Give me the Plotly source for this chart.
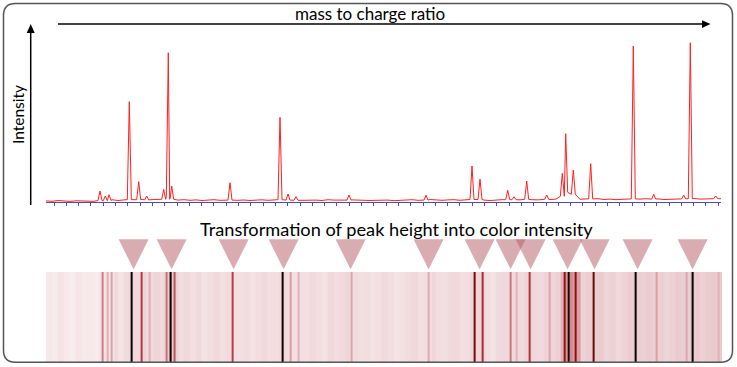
import plotly.graph_objects as go

W, H = 737, 367

# ---------------- data (m/z offset units, intensity units) ----------------
baseline_mz = list(range(0, 673, 6)) + [675]
baseline_int = [
    1.4, 1.0, 1.8, 1.2, 0.9, 1.5, 1.1, 1.3, 1.0,
    2.2, 2.0, 2.6, 1.8, 2.4,
    2.0, 2.6, 3.0, 2.2, 2.8, 2.4, 3.2,
    2.8, 2.2, 2.6, 2.0, 2.4, 1.8, 2.2, 2.6, 2.0, 2.4,
    2.6, 2.0, 2.3, 1.8, 2.2, 2.5, 2.0, 2.2, 2.8, 2.4,
    2.0, 1.6, 2.0, 2.4, 2.2, 1.8, 2.6, 2.2, 2.4, 2.8,
    2.4, 2.0, 2.2, 1.8, 2.0, 2.4, 2.2, 1.6, 2.0, 2.3,
    2.6, 2.0, 2.4, 2.8, 2.2, 2.0, 2.4, 2.6, 2.0, 2.2,
    2.8, 3.0, 2.2, 1.8, 2.4, 2.6, 2.2, 2.8, 2.4, 3.0,
    2.6, 2.4, 3.0, 2.8, 3.2, 2.6, 3.4, 2.8, 3.0, 3.4,
    3.0, 3.6, 2.8, 3.2, 2.6, 3.0, 3.4, 2.8, 3.2, 3.6,
    3.0, 3.4, 2.8, 3.2, 3.6, 3.0, 3.4, 3.8, 3.2, 3.6,
    3.8, 3.4, 3.6,
]

peak_mz = [54, 59.3, 63, 83.3, 92.7, 100.7, 117.7, 122.3, 125.7, 184, 234, 242,
           250, 303, 380, 426, 434, 461.7, 468, 480.7, 500.7, 516.3, 519.7,
           527.3, 544.7, 587.3, 607.7, 637.7, 644.3, 669.7]
peak_int = [11.3, 6.3, 7.6, 100.6, 20.6, 6.3, 13, 149.6, 16.3, 19.6, 85, 8.3,
            5.6, 7.3, 7, 36.3, 23.3, 12, 5.6, 21.3, 7.3, 29, 68.6,
            32.3, 38.6, 156.3, 8, 7.3, 159.6, 6.3]
peak_foot = [1.8, 1.6, 1.8, 2.6, 2.6, 2.4, 3.0, 5.0, 3.0, 2.2, 2.6, 2.2,
             2.0, 2.2, 2.2, 2.8, 2.8, 2.6, 2.6, 3.0, 3.0, 6.0, 10.0,
             8.0, 3.4, 3.4, 3.2, 3.4, 3.6, 3.6]

marked_mz = [85, 123, 185, 235, 302, 380, 431, 462, 482, 519, 546, 589, 644]

# ---------------- assemble spectrum series ----------------
HALF = 2.0
pts = []
for u, v in zip(baseline_mz, baseline_int):
    if all(abs(u - p) > 2.7 for p in peak_mz):
        pts.append((u, v))
for p, h, f in zip(peak_mz, peak_int, peak_foot):
    pts += [(p - HALF, f), (p, h), (p + HALF, f)]
pts.sort()
spec_x = [a for a, b in pts]
spec_y = [b for a, b in pts]


def fx(px):
    return px / W


def fy(py):
    return 1 - py / H


fig = go.Figure()

fig.add_trace(go.Scatter(
    x=spec_x, y=spec_y, mode="lines",
    line=dict(color="#ff2020", width=1),
    hoverinfo="skip", xaxis="x", yaxis="y", showlegend=False))

colorscale = [
    [0.0, "#fdf6f7"], [0.012, "#f7e9eb"], [0.022, "#f2dde0"],
    [0.032, "#ecd0d3"], [0.045, "#e5c0c4"], [0.07, "#dcaaaf"],
    [0.10, "#d0898f"], [0.15, "#c4626a"], [0.20, "#b83a40"],
    [0.28, "#a01416"], [0.40, "#6a0404"], [0.60, "#200000"],
    [1.0, "#000000"],
]
fig.add_trace(go.Heatmap(
    x=spec_x, y=[0], z=[spec_y], zmin=0, zmax=100,
    colorscale=colorscale, showscale=False, hoverinfo="skip",
    xaxis="x2", yaxis="y2"))

shapes = []
# triangles marking peaks
for c in marked_mz:
    shapes.append(dict(
        type="path", xref="x2", yref="paper",
        path=f"M {c-15},{fy(239.3)} L {c+15},{fy(239.3)} L {c},{fy(269.3)} Z",
        fillcolor="rgba(180,90,100,0.5)", line=dict(width=0), layer="above"))


def P(x, y):
    return f"{fx(x)},{fy(y)}"


# rounded border
x0, y0, x1, y1, r = 3.5, 3.5, 732.5, 362.3, 12
border = (f"M {P(x0+r, y0)} L {P(x1-r, y0)} Q {P(x1, y0)} {P(x1, y0+r)} "
          f"L {P(x1, y1-r)} Q {P(x1, y1)} {P(x1-r, y1)} "
          f"L {P(x0+r, y1)} Q {P(x0, y1)} {P(x0, y1-r)} "
          f"L {P(x0, y0+r)} Q {P(x0, y0)} {P(x0+r, y0)} Z")
shapes.append(dict(type="path", xref="paper", yref="paper", path=border,
                   line=dict(color="#555555", width=1.5), layer="above"))

# Intensity arrow
shapes.append(dict(type="line", xref="paper", yref="paper",
                   x0=fx(30.7), x1=fx(30.7), y0=fy(205), y1=fy(32),
                   line=dict(color="black", width=1.5)))
shapes.append(dict(type="path", xref="paper", yref="paper",
                   path=f"M {P(26.7, 33)} L {P(34.7, 33)} L {P(30.7, 24)} Z",
                   fillcolor="black", line=dict(width=0)))
# m/z arrow
shapes.append(dict(type="line", xref="paper", yref="paper",
                   x0=fx(58), x1=fx(703), y0=fy(24), y1=fy(24),
                   line=dict(color="black", width=1.5)))
shapes.append(dict(type="path", xref="paper", yref="paper",
                   path=f"M {P(702, 20.2)} L {P(702, 28)} L {P(710.5, 24)} Z",
                   fillcolor="black", line=dict(width=0)))

FONT = "Lato, 'Open Sans', sans-serif"
annotations = [
    dict(text="mass to charge ratio", x=fx(370), y=fy(13.5), xref="paper", yref="paper",
         showarrow=False, font=dict(family=FONT, size=17, color="black"),
         xanchor="center", yanchor="middle"),
    dict(text="Intensity", x=fx(18), y=fy(115), xref="paper", yref="paper",
         showarrow=False, textangle=-90, font=dict(family=FONT, size=15.5, color="black"),
         xanchor="center", yanchor="middle"),
    dict(text="Transformation of peak height into color intensity", x=fx(396.5), y=fy(228.5),
         xref="paper", yref="paper", showarrow=False,
         font=dict(family=FONT, size=18.2, color="black"),
         xanchor="center", yanchor="middle"),
]

fig.update_layout(
    width=W, height=H, margin=dict(l=0, r=0, t=0, b=0),
    paper_bgcolor="white", plot_bgcolor="rgba(0,0,0,0)",
    showlegend=False, shapes=shapes, annotations=annotations,
    xaxis=dict(domain=[fx(46), fx(721)], range=[0, 675], showgrid=False,
               zeroline=False, showline=True, linecolor="#4a4ab0", linewidth=1,
               ticks="outside", ticklen=3, tickwidth=1, tickcolor="#4a4ab0",
               tick0=8, dtick=12.3, showticklabels=False, fixedrange=True),
    yaxis=dict(domain=[fy(202.3), fy(32.3)], range=[0, 170], visible=False,
               fixedrange=True),
    xaxis2=dict(domain=[fx(45.6), fx(722)], range=[-3, 673.4], visible=False,
                anchor="y2", fixedrange=True),
    yaxis2=dict(domain=[fy(362), fy(272)], range=[-0.5, 0.5], visible=False,
                anchor="x2", fixedrange=True),
)

fig.write_html("out.html",
               post_script="document.body.style.margin='0px';document.body.style.overflow='hidden';",
               config={"displayModeBar": False})
